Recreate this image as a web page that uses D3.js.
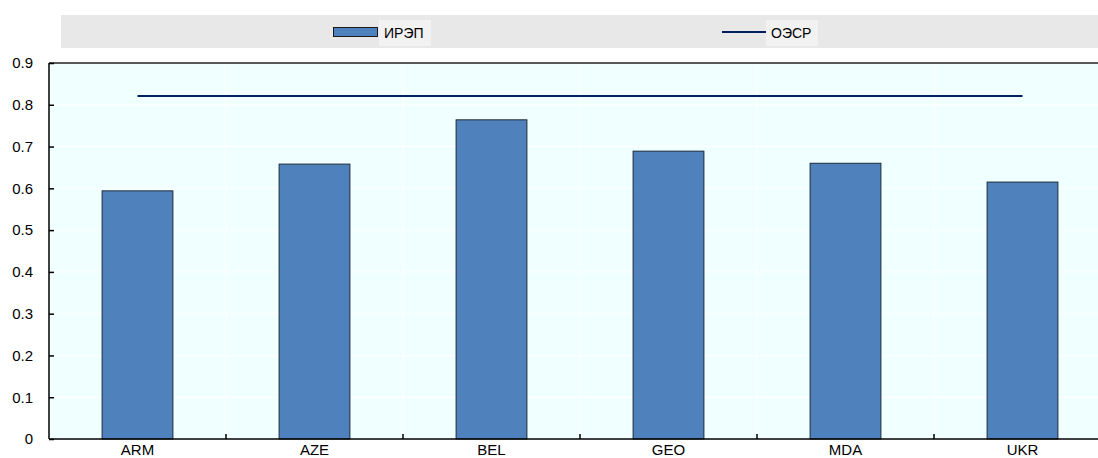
<!DOCTYPE html>
<html>
<head>
<meta charset="utf-8">
<script src="https://cdn.jsdelivr.net/npm/d3@7"></script>
<style>
  body { margin: 0; background: #fff; }
  svg { display: block; font-family: "Liberation Sans", Arial, sans-serif; }
</style>
</head>
<body>
<svg></svg>
<script>
var width = 1098;
var height = 458;
var margin = { top: 63, left: 49, bottom: 19 };
var plotRight = 1111; // plot runs past the window edge, as in the source

var countries = ["ARM", "AZE", "BEL", "GEO", "MDA", "UKR"];
var ireValues = [0.594, 0.658, 0.764, 0.689, 0.660, 0.615];
var oecdValue = 0.821;
var yTicks = [0, 0.1, 0.2, 0.3, 0.4, 0.5, 0.6, 0.7, 0.8, 0.9];
var seriesNames = ["ИРЭП", "ОЭСР"];

var barColor = "#4f81bd";
var lineColor = "#002060";

// prettier-ignore
var svg = d3.select("svg")
              .attr("width", width)
              .attr("height", height);

var xScale = d3.scaleBand()
  .domain(countries)
  .range([margin.left, plotRight])
  .paddingInner(0.6)
  .paddingOuter(0.3);

var yScale = d3.scaleLinear()
  .domain([0, 0.9])
  .range([height - margin.bottom, margin.top]);

// legend strip
svg.append("rect")
   .attr("x", 61).attr("y", 15)
   .attr("width", width - 61).attr("height", 33)
   .attr("fill", "#e8e8e8");

var legBar = svg.append("g").attr("transform", "translate(333,0)");
legBar.append("rect")
   .attr("x", 46).attr("y", 20).attr("width", 52).attr("height", 26)
   .attr("fill", "#f2f2f2");
legBar.append("rect")
   .attr("x", 0.5).attr("y", 27.5).attr("width", 44).attr("height", 9)
   .attr("fill", barColor).attr("stroke", "#1a1a1a").attr("stroke-width", 1);
legBar.append("text")
   .attr("x", 51).attr("y", 37.5)
   .attr("font-size", 14).attr("fill", "#000")
   .text(seriesNames[0]);

var legLine = svg.append("g").attr("transform", "translate(722,0)");
legLine.append("rect")
   .attr("x", 44).attr("y", 20).attr("width", 52).attr("height", 26)
   .attr("fill", "#f2f2f2");
legLine.append("line")
   .attr("x1", 0).attr("x2", 44).attr("y1", 32).attr("y2", 32)
   .attr("stroke", lineColor).attr("stroke-width", 2);
legLine.append("text")
   .attr("x", 49).attr("y", 37.5)
   .attr("font-size", 14).attr("fill", "#000")
   .text(seriesNames[1]);

// plot background
svg.append("rect")
   .attr("x", margin.left).attr("y", margin.top)
   .attr("width", plotRight - margin.left)
   .attr("height", yScale(0) - margin.top)
   .attr("fill", "#f0ffff");

// grid
svg.append("g")
   .selectAll("line")
   .data(yTicks.slice(1, -1))
   .join("line")
     .attr("x1", margin.left).attr("x2", plotRight)
     .attr("y1", d => yScale(d)).attr("y2", d => yScale(d))
     .attr("stroke", "#ffffff").attr("stroke-width", 1);

var step = xScale.step();
var bounds = countries.slice(1).map(c => xScale(c) - step * xScale.paddingInner() / 2);

svg.append("g")
   .selectAll("line")
   .data(bounds)
   .join("line")
     .attr("x1", d => d).attr("x2", d => d)
     .attr("y1", margin.top).attr("y2", yScale(0))
     .attr("stroke", "#ffffff").attr("stroke-width", 1);

// bars
svg.append("g")
   .selectAll("rect")
   .data(countries)
   .join("rect")
     .attr("x", d => xScale(d))
     .attr("y", (d, i) => yScale(ireValues[i]))
     .attr("width", xScale.bandwidth())
     .attr("height", (d, i) => yScale(0) - yScale(ireValues[i]))
     .attr("fill", barColor)
     .attr("stroke", "#1c2a3a")
     .attr("stroke-width", 1);

// OECD line across bar centres
var first = countries[0], last = countries[countries.length - 1];
svg.append("line")
   .attr("x1", xScale(first) + xScale.bandwidth() / 2)
   .attr("x2", xScale(last) + xScale.bandwidth() / 2)
   .attr("y1", yScale(oecdValue)).attr("y2", yScale(oecdValue))
   .attr("stroke", lineColor).attr("stroke-width", 2);

// frame: top border line and axes
svg.append("line")
   .attr("x1", margin.left).attr("x2", plotRight)
   .attr("y1", margin.top).attr("y2", margin.top)
   .attr("stroke", "#222").attr("stroke-width", 1.5);

var yAxis = svg.append("g")
   .attr("transform", "translate(" + margin.left + ",0)")
   .call(d3.axisLeft(yScale).tickValues(yTicks).tickSize(-5).tickPadding(16)
         .tickFormat(d => d === 0 ? "0" : d3.format(".1f")(d)));
yAxis.select(".domain").attr("stroke", "#000").attr("stroke-width", 1.5).attr("d", "M0," + margin.top + "V" + yScale(0));
yAxis.selectAll(".tick line").attr("stroke", "#000").attr("stroke-width", 1.5);
yAxis.selectAll("text").attr("font-size", 15).attr("fill", "#000").attr("font-family", "Liberation Sans, Arial, sans-serif");

var xAxis = svg.append("g")
   .attr("transform", "translate(0," + yScale(0) + ")");
xAxis.append("line")
   .attr("x1", margin.left).attr("x2", plotRight)
   .attr("stroke", "#000").attr("stroke-width", 1.5);
xAxis.selectAll(".bt")
   .data(bounds)
   .join("line")
     .attr("class", "bt")
     .attr("x1", d => d).attr("x2", d => d)
     .attr("y1", 0).attr("y2", -5)
     .attr("stroke", "#000").attr("stroke-width", 1.5);
xAxis.selectAll("text")
   .data(countries)
   .join("text")
     .attr("x", d => xScale(d) + xScale.bandwidth() / 2)
     .attr("y", 16)
     .attr("text-anchor", "middle")
     .attr("font-size", 15)
     .attr("fill", "#000")
     .text(d => d);
</script>
</body>
</html>
